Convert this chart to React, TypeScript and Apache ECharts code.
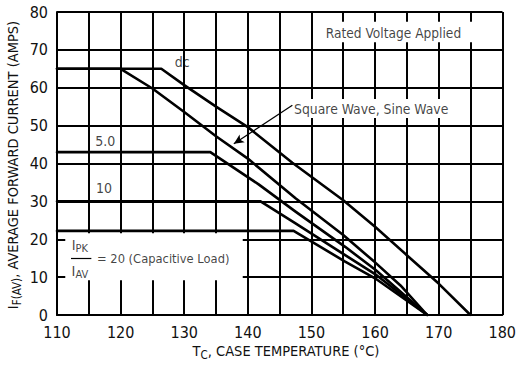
import React, { useEffect, useRef } from "react";
import * as echarts from "echarts";

const FONT = '"DejaVu Sans Condensed", "Liberation Sans Narrow", "Arial Narrow", sans-serif';

// Axis ranges and grid steps
const xMin = 110;
const xMax = 180;
const xStep = 5;
const yMin = 0;
const yMax = 80;
const yStep = 10;

// Curve data: case temperature (°C) vs. average forward current (A)
const dcTemp = [110, 126.4, 130, 135, 140, 147, 155, 160, 165, 170, 175];
const dcCurrent = [65, 65, 60.7, 55, 49.6, 40.2, 30.3, 23.3, 15.8, 8.3, 0];

const waveTemp = [110, 120, 125, 130, 135, 140, 147.5, 155, 160, 164, 168.2];
const waveCurrent = [65, 65, 59.8, 53.6, 47.2, 41.3, 30.8, 21.1, 13.9, 7.8, 0];

const r5Temp = [110, 134.1, 141.7, 147.5, 155.3, 160, 168.2];
const r5Current = [43, 43, 34.5, 27.3, 18, 12, 0];

const r10Temp = [110, 142, 147.5, 155.3, 160, 168.2];
const r10Current = [30, 30, 24.2, 15.8, 10.8, 0];

const r20Temp = [110, 147.2, 155.3, 160, 168.2];
const r20Current = [22.2, 22.2, 14.1, 9.7, 0];

const curveNames = ["dc", "Square Wave, Sine Wave", "5.0", "10", "20"];
const curveTemps = [dcTemp, waveTemp, r5Temp, r10Temp, r20Temp];
const curveCurrents = [dcCurrent, waveCurrent, r5Current, r10Current, r20Current];

// white label boxes (corner pairs in data units)
const labelBoxes = [
  [111.3, 9.2, 139.2, 21.6],
  [150.3, 72.0, 179.7, 77.4],
  [147.2, 52.0, 171.6, 57.0],
];

export default function App() {
  const ref = useRef<HTMLDivElement>(null);

  useEffect(() => {
    const chart = echarts.init(ref.current!, null, { renderer: "svg" });

    const lineSeries: any[] = curveNames.map((name, k) => ({
      type: "line",
      name,
      data: curveTemps[k].map((t, i) => [t, curveCurrents[k][i]]),
      symbol: "none",
      showSymbol: false,
      silent: true,
      z: 5,
      lineStyle: { color: "#000", width: 2.6, cap: "round", join: "round" },
    }));

    lineSeries[0].markArea = {
      silent: true,
      z: 3,
      itemStyle: { color: "#fff", borderWidth: 0, opacity: 1 },
      label: { show: false },
      data: labelBoxes.map(([x0, y0, x1, y1]) => [{ coord: [x0, y0] }, { coord: [x1, y1] }]),
    };

    lineSeries[0].markLine = {
      silent: true,
      z: 6,
      symbol: ["none", "none"],
      label: { show: false },
      lineStyle: { color: "#000", width: 1.2, type: "solid" },
      data: [
        [
          { coord: [147.0, 55.4], symbol: "none" },
          { coord: [137.8, 45.2], symbol: "arrow", symbolSize: [7, 10] },
        ],
        [
          { coord: [112.2, 15.1], symbol: "none" },
          { coord: [115.4, 15.1], symbol: "none" },
        ],
      ],
    };

    // grid lines at every axis step, through the axes
    const gridMarks: any[] = [];
    for (let v = xMin + xStep; v <= xMax; v += xStep) gridMarks.push({ xAxis: v });
    for (let v = yMin + yStep; v <= yMax; v += yStep) gridMarks.push({ yAxis: v });
    const gridSeries: any = {
      type: "line",
      data: [],
      silent: true,
      z: 0,
      markLine: {
        silent: true,
        z: 0,
        symbol: ["none", "none"],
        label: { show: false },
        lineStyle: { color: "#000", width: 1.8, type: "solid" },
        data: gridMarks,
      },
    };

    const txt = (fontSize: number) => ({
      show: true,
      position: "inside",
      color: "#111",
      fontFamily: FONT,
      fontSize,
    });

    const subRich = {
      i: { fontFamily: FONT, fontSize: 14.5, color: "#111" },
      s: { fontFamily: FONT, fontSize: 11, color: "#111", padding: [7, 0, 0, 0] },
    };

    const annotations: any = {
      type: "scatter",
      symbolSize: 0,
      silent: true,
      z: 7,
      data: [
        { value: [129.7, 66.9], label: { ...txt(14), formatter: "dc" } },
        { value: [117.6, 45.9], label: { ...txt(14), formatter: "5.0" } },
        { value: [117.4, 33.5], label: { ...txt(14), formatter: "10" } },
        { value: [162.9, 74.5], label: { ...txt(13.6), formatter: "Rated Voltage Applied" } },
        { value: [159.4, 54.3], label: { ...txt(13.8), formatter: "Square Wave, Sine Wave" } },
        { value: [126.7, 14.9], label: { ...txt(12.8), formatter: "= 20 (Capacitive Load)" } },
        { value: [113.6, 18.4], label: { ...txt(14), formatter: "{i|I}{s|PK}", rich: subRich } },
        { value: [113.6, 11.6], label: { ...txt(14), formatter: "{i|I}{s|AV}", rich: subRich } },
      ],
    };

    const titleRich = {
      i: { fontFamily: FONT, fontSize: 14.5, fill: "#111" },
      s: { fontFamily: FONT, fontSize: 11.5, fill: "#111", padding: [7, 0, 0, 0] },
    };

    chart.setOption({
      animation: false,
      backgroundColor: "#fff",
      grid: { left: 57, right: 9, top: 12, bottom: 50 },
      xAxis: {
        type: "value",
        min: xMin,
        max: xMax,
        interval: xStep,
        axisLine: { show: true, lineStyle: { color: "#000", width: 2 } },
        axisTick: { show: true, length: 0 },
        splitLine: { show: true, lineStyle: { color: "#000", width: 1.8, type: "solid" } },
        axisLabel: {
          color: "#111",
          fontFamily: FONT,
          fontSize: 16,
          margin: 9,
          formatter: (v: number) => (v % 10 === 0 ? String(v) : ""),
        },
      },
      yAxis: {
        type: "value",
        min: yMin,
        max: yMax,
        interval: yStep,
        axisLine: { show: true, lineStyle: { color: "#000", width: 2 } },
        axisTick: { show: true, length: 0 },
        splitLine: { show: true, lineStyle: { color: "#000", width: 1.8, type: "solid" } },
        axisLabel: { color: "#111", fontFamily: FONT, fontSize: 16, margin: 9 },
      },
      graphic: [
        {
          type: "text",
          x: 13,
          y: 165,
          rotation: Math.PI / 2,
          style: {
            text: "{i|I}{s|F(AV)}{i|, AVERAGE FORWARD CURRENT (AMPS)}",
            align: "center",
            verticalAlign: "middle",
            rich: titleRich,
          },
        },
        {
          type: "text",
          x: 286,
          y: 351,
          style: {
            text: "{i|T}{s|C}{i|, CASE TEMPERATURE (°C)}",
            align: "center",
            verticalAlign: "middle",
            rich: titleRich,
          },
        },
      ],
      series: [gridSeries, ...lineSeries, annotations],
    });

    return () => chart.dispose();
  }, []);

  return (
    <div
      ref={ref}
      style={{ position: "fixed", left: 0, top: 0, width: 519, height: 365, background: "#fff" }}
    />
  );
}
